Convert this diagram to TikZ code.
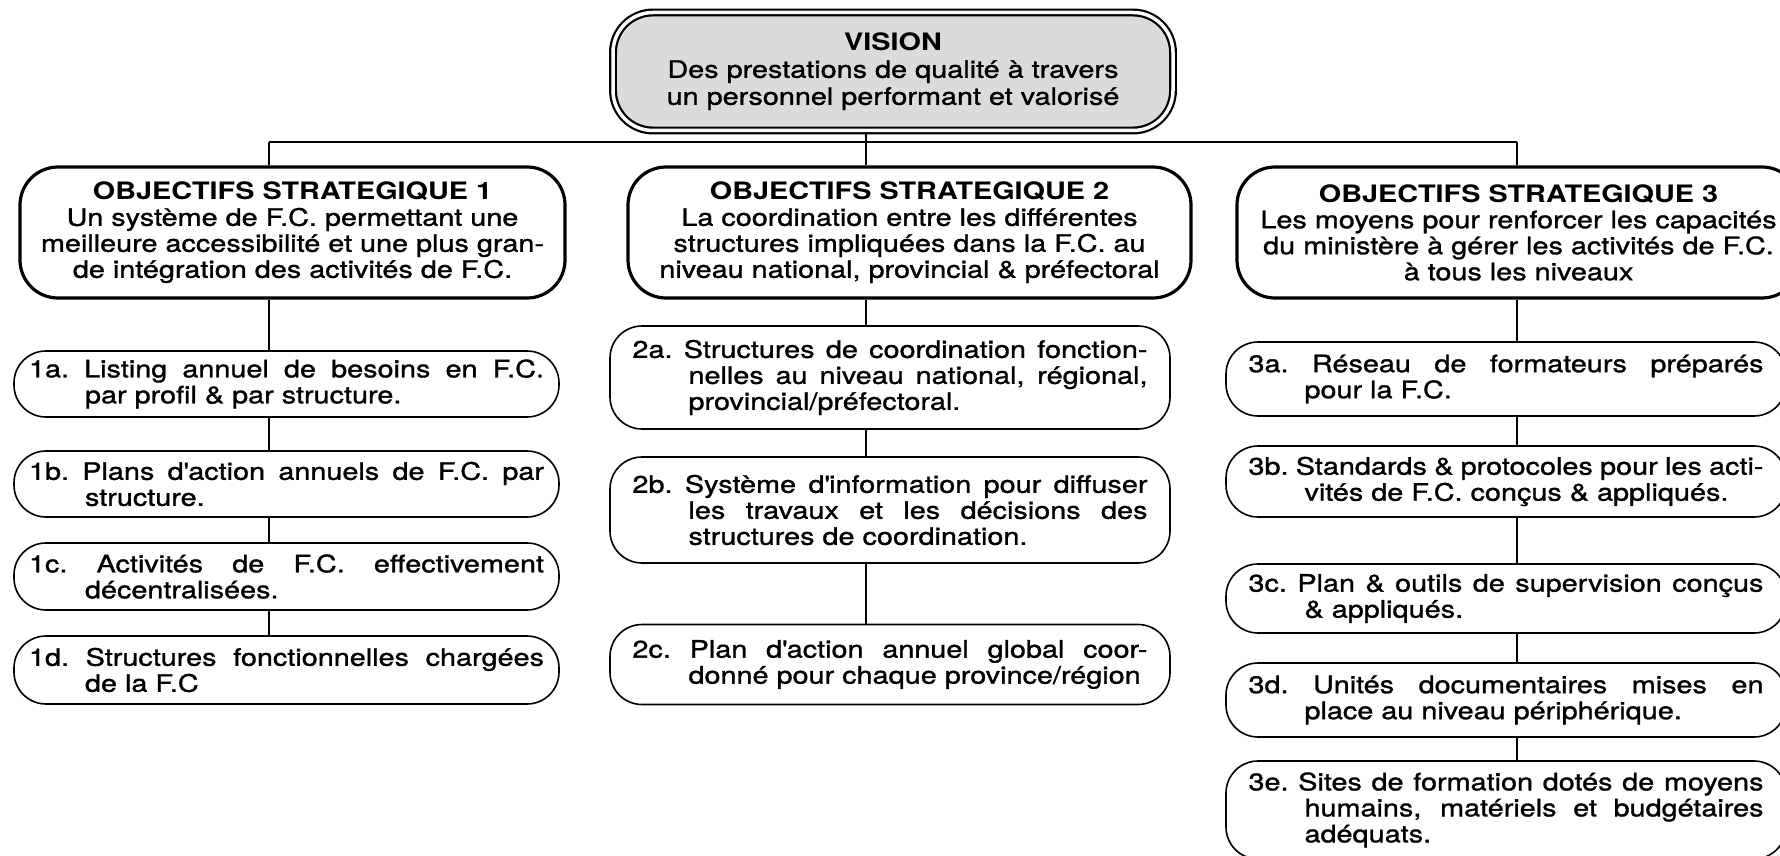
\documentclass[tikz,border=0pt]{standalone}
\usepackage{fontspec}
\setmainfont[FakeStretch=1.2, UprightFeatures={FakeBold=1.2}]{TeX Gyre Heros}
\newcommand\entrytext[2]{\parbox{515pt}{\tolerance=10000\hangindent=56pt\hangafter=1 #1\ #2}}
\newcommand\apos{\textquotesingle}
\begin{document}
\begin{tikzpicture}[x=1pt,y=-1pt,
  every node/.style={font=\fontsize{24}{26}\selectfont, inner sep=0pt},
  visionbox/.style={draw, line width=2.2pt, double=white, double distance=3.5pt,
    fill=black!14, rounded corners=40pt, minimum width=560pt, minimum height=118pt, align=center},
  objbox/.style={draw, line width=3.2pt, rounded corners=38pt, fill=white,
    minimum height=131pt, align=center},
  itembox/.style={draw, line width=1.6pt, rounded corners=32pt, fill=white},
  link/.style={line width=1.4pt}]
\useasboundingbox (0,0) rectangle (1780,856);

% column guides and the horizontal bus
\coordinate (cA) at (269,0);
\coordinate (cB) at (866,0);
\coordinate (cC) at (1517,0);
\coordinate (bus) at (0,142);

% vision
\node[visionbox] (vision) at (893,71.5)
  {{\bfseries VISION}\\[1pt] Des prestations de qualité à travers\\[1pt] un personnel performant et valorisé};

% strategic objectives
\node[objbox, minimum width=545pt] (o1) at (292.5,232.5)
  {{\bfseries OBJECTIFS STRATEGIQUE 1}\\ Un système de F.C. permettant une\\ meilleure accessibilité et une plus gran-\\ de intégration des activités de F.C.};
\node[objbox, minimum width=563pt] (o2) at (909.5,232.5)
  {{\bfseries OBJECTIFS STRATEGIQUE 2}\\ La coordination entre les différentes\\ structures impliquées dans la F.C. au\\ niveau national, provincial \& préfectoral};
\node[objbox, minimum width=563pt] (o3) at (1518.5,232.5)
  {{\bfseries OBJECTIFS STRATEGIQUE 3}\\ Les moyens pour renforcer les capacités\\ du ministère à gérer les activités de F.C.\\ à tous les niveaux};

% column 1
\node[itembox, minimum width=545pt, minimum height=66pt] (i1a) at (286.5,384)
  {\entrytext{1a.}{Listing annuel de besoins en F.C.\linebreak par profil \& par structure.}};
\node[itembox, minimum width=545pt, minimum height=66pt] (i1b) at (286.5,484)
  {\entrytext{1b.}{Plans d\apos action annuels de F.C. par\linebreak structure.}};
\node[itembox, minimum width=545pt, minimum height=67pt] (i1c) at (286.5,576.5)
  {\entrytext{1c.}{Activités de F.C. effectivement\linebreak décentralisées.}};
\node[itembox, minimum width=545pt, minimum height=68pt] (i1d) at (286.5,670)
  {\entrytext{1d.}{Structures fonctionnelles chargées\linebreak de la F.C}};

% column 2
\node[itembox, minimum width=560pt, minimum height=103pt] (i2a) at (890,377.5)
  {\entrytext{2a.}{Structures de coordination fonction-\linebreak nelles au niveau national, régional,\linebreak provincial/préfectoral.}};
\node[itembox, minimum width=560pt, minimum height=106pt] (i2b) at (890,510)
  {\entrytext{2b.}{Système d\apos information pour diffuser\linebreak les travaux et les décisions des\linebreak structures de coordination.}};
\node[itembox, minimum width=560pt, minimum height=80pt] (i2c) at (890,664.5)
  {\entrytext{2c.}{Plan d\apos action annuel global coor-\linebreak donné pour chaque province/région}};

% column 3
\node[itembox, minimum width=560pt, minimum height=74pt] (i3a) at (1506,379)
  {\entrytext{3a.}{Réseau de formateurs préparés\linebreak pour la F.C.}};
\node[itembox, minimum width=560pt, minimum height=71pt] (i3b) at (1506,481.5)
  {\entrytext{3b.}{Standards \& protocoles pour les acti-\linebreak vités de F.C. conçus \& appliqués.}};
\node[itembox, minimum width=560pt, minimum height=69pt] (i3c) at (1506,598.5)
  {\entrytext{3c.}{Plan \& outils de supervision conçus\linebreak \& appliqués.}};
\node[itembox, minimum width=560pt, minimum height=74pt] (i3d) at (1506,700)
  {\entrytext{3d.}{Unités documentaires mises en\linebreak place au niveau périphérique.}};
\node[itembox, minimum width=560pt, minimum height=98pt] (i3e) at (1506,810)
  {\entrytext{3e.}{Sites de formation dotés de moyens\linebreak humains, matériels et budgétaires\linebreak adéquats.}};

% connectors
\draw[link] (vision.south -| cB) -- (bus -| cB);
\draw[link] (bus -| cA) -- (bus -| cC);
\draw[link] (bus -| cA) -- (o1.north -| cA);
\draw[link] (bus -| cB) -- (o2.north -| cB);
\draw[link] (bus -| cC) -- (o3.north -| cC);

\draw[link] (o1.south -| cA) -- (i1a.north -| cA);
\draw[link] (i1a.south -| cA) -- (i1b.north -| cA);
\draw[link] (i1b.south -| cA) -- (i1c.north -| cA);
\draw[link] (i1c.south -| cA) -- (i1d.north -| cA);

\draw[link] (o2.south -| cB) -- (i2a.north -| cB);
\draw[link] (i2a.south -| cB) -- (i2b.north -| cB);
\draw[link] (i2b.south -| cB) -- (i2c.north -| cB);

\draw[link] (o3.south -| cC) -- (i3a.north -| cC);
\draw[link] (i3a.south -| cC) -- (i3b.north -| cC);
\draw[link] (i3b.south -| cC) -- (i3c.north -| cC);
\draw[link] (i3c.south -| cC) -- (i3d.north -| cC);
\draw[link] (i3d.south -| cC) -- (i3e.north -| cC);
\end{tikzpicture}
\end{document}
